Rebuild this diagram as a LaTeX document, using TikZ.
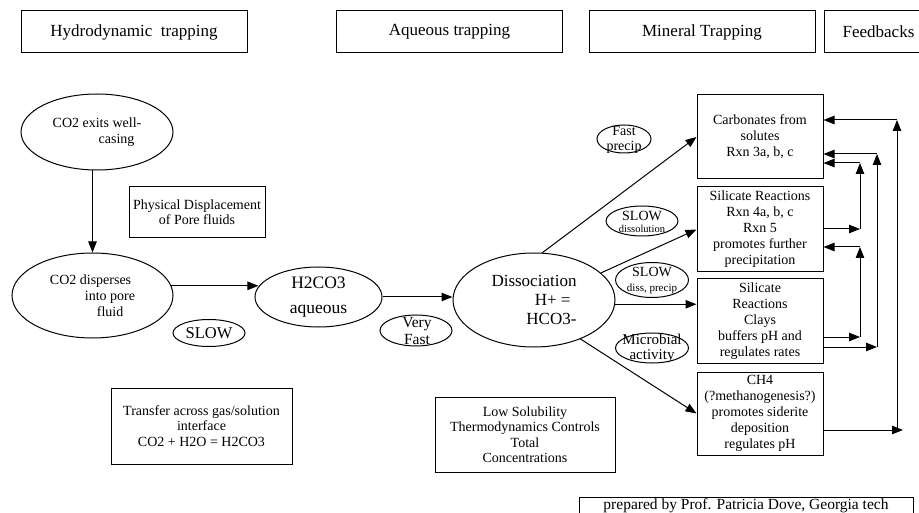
\documentclass[tikz,border=0pt]{standalone}
\usepackage{fontspec}
\setmainfont{Liberation Serif}
\usetikzlibrary{positioning,arrows.meta,shapes.geometric}

\begin{document}
\begin{tikzpicture}[
		x=1pt, y=-1pt,
		> = {Triangle[length=11pt,width=8.5pt]},
		line width=1pt,
		head/.style = {draw, minimum width=226, minimum height=42, inner sep=0, font=\fontsize{17}{19}\selectfont},
		panel/.style = {draw, align=center, inner sep=0, font=\fontsize{14}{16}\selectfont},
		stage/.style = {draw, ellipse, inner sep=0},
		tag/.style = {draw, ellipse, inner sep=0},
		tagtext/.style = {align=center, inner sep=0, font=\fontsize{14}{15}\selectfont}
		]
		\useasboundingbox (0,0) rectangle (919,513);
		% column titles
		\node[head] (hydro) at (134,32) {Hydrodynamic~ trapping};
		\node[head] (aqueous) at (449.5,32) {Aqueous trapping};
		\node[head] (mineral) at (702,32) {Mineral Trapping};
		\node[head, minimum width=109] (feedbacks) at (878.5,32) {Feedbacks};
		
		% hydrodynamic trapping
		\node[stage, minimum width=152, minimum height=76, align=left, font=\fontsize{14}{16}\selectfont] (exits) at (97,132) {CO2 exits well-\\\hspace*{46pt}casing};
		\node[stage, minimum width=161, minimum height=85, align=left, font=\fontsize{14}{16}\selectfont] (disperses) at (92.5,295.5) {CO2 disperses\\\hspace*{35pt}into pore\\\hspace*{47pt}fluid};
		\node[panel, minimum width=136, minimum height=51, font=\fontsize{14}{15}\selectfont] (physical) at (197,212.5) {Physical Displacement\\of Pore fluids};
		\node[tag, minimum width=72, minimum height=27, font=\fontsize{16.5}{18}\selectfont] (slow) at (209,333) {SLOW};
		\node[panel, minimum width=181, minimum height=76, font=\fontsize{14}{15.5}\selectfont] (transfer) at (201.5,426) {Transfer across gas/solution\\interface\\CO2 + H2O = H2CO3};
		
		% aqueous trapping
		\node[stage, minimum width=127, minimum height=60, align=center, font=\fontsize{17.5}{25}\selectfont] (h2co3) at (318.5,297) {H2CO3\\aqueous};
		\node[tag, minimum width=72, minimum height=31] (veryfast) at (416,330.5) {};
		\node[tagtext, font=\fontsize{15.5}{17}\selectfont] (veryfast-t) at (417,331.5) {Very\\Fast};
		\node[stage, minimum width=162, minimum height=94, align=right, font=\fontsize{17}{19}\selectfont] (dissoc) at (534,300) {Dissociation\\H+ =\hbox to 6pt{}\\HCO3-};
		\node[panel, minimum width=180, minimum height=75, font=\fontsize{14}{15.5}\selectfont] (lowsol) at (525,434.5) {Low Solubility\\Thermodynamics Controls\\Total\\Concentrations};
		
		% rates on the branches
		\node[tag, minimum width=54, minimum height=28] (fast) at (624,139) {};
		\node[tagtext] (fast-t) at (624,139.5) {Fast\\precip};
		\node[tag, minimum width=72, minimum height=30] (slowdiss) at (642,221) {};
		\node[tagtext, font=\fontsize{14}{12}\selectfont] (slowdiss-t) at (642,222) {SLOW\\\fontsize{10.5}{12}\selectfont dissolution};
		\node[tag, minimum width=73, minimum height=35] (slowprecip) at (652,280) {};
		\node[tagtext, font=\fontsize{14}{15}\selectfont] (slowprecip-t) at (652,281) {SLOW\\\fontsize{11}{15}\selectfont diss, precip};
		\node[tag, minimum width=73, minimum height=30] (microbial) at (652,348) {};
		\node[tagtext, font=\fontsize{15}{15}\selectfont] (microbial-t) at (652,348.5) {Microbial\\activity};
		
		% mineral trapping
		\node[panel, minimum width=126, minimum height=84] (carb) at (760,137) {Carbonates from\\solutes\\Rxn 3a, b, c};
		\node[panel, minimum width=126, minimum height=85] (sil1) at (760,229.5) {Silicate Reactions\\Rxn 4a, b, c\\Rxn 5\\promotes further\\precipitation};
		\node[panel, minimum width=126, minimum height=84] (sil2) at (760,321) {Silicate\\Reactions\\Clays\\buffers pH and\\regulates rates};
		\node[panel, minimum width=126, minimum height=83] (ch4) at (760,413.5) {CH4\\(?methanogenesis?)\\promotes siderite\\deposition\\regulates pH};
		
		\node[draw, anchor=north, minimum width=334, inner xsep=0, inner ysep=2, text height=10, text depth=12, font=\fontsize{15.5}{17}\selectfont] (credit) at (746,497) {prepared by Prof. Patricia Dove, Georgia tech};
		
		% Draw the trapping path
		\path[->]
		(exits.south -| disperses.north) edge (disperses.north)
		(disperses.7) edge (disperses.7 -| h2co3.170)
		(h2co3.east) edge (h2co3.east -| dissoc.west)
		(dissoc.80) edge (carb.west)
		(dissoc.22) edge (sil1.west)
		(dissoc.-3) edge (dissoc.-3 -| sil2.west)
		(dissoc.-40) edge (ch4.west);
		
		% feedback corners
		\coordinate (fa) at (860,229);
		\coordinate (fb) at (860,163);
		\coordinate (fc) at (860,337);
		\coordinate (fd) at (860,247);
		\coordinate (fe) at (877,347);
		\coordinate (ff) at (877,154);
		\coordinate (fg) at (897,430);
		\coordinate (fh) at (897,120);
		\path[->]
		(fa -| sil1.east) edge (fa)
		(fa) edge (fb)
		(fb) edge (fb -| carb.east)
		(fc -| sil2.east) edge (fc)
		(fc) edge (fd)
		(fd) edge (fd -| sil1.east)
		(fe -| sil2.east) edge (fe)
		(fe) edge (ff)
		(ff) edge (ff -| carb.east)
		(fg -| ch4.east) edge ([xshift=6pt]fg)
		(fg) edge (fh)
		(fh) edge (fh -| carb.east);
	\end{tikzpicture}
\end{document}
